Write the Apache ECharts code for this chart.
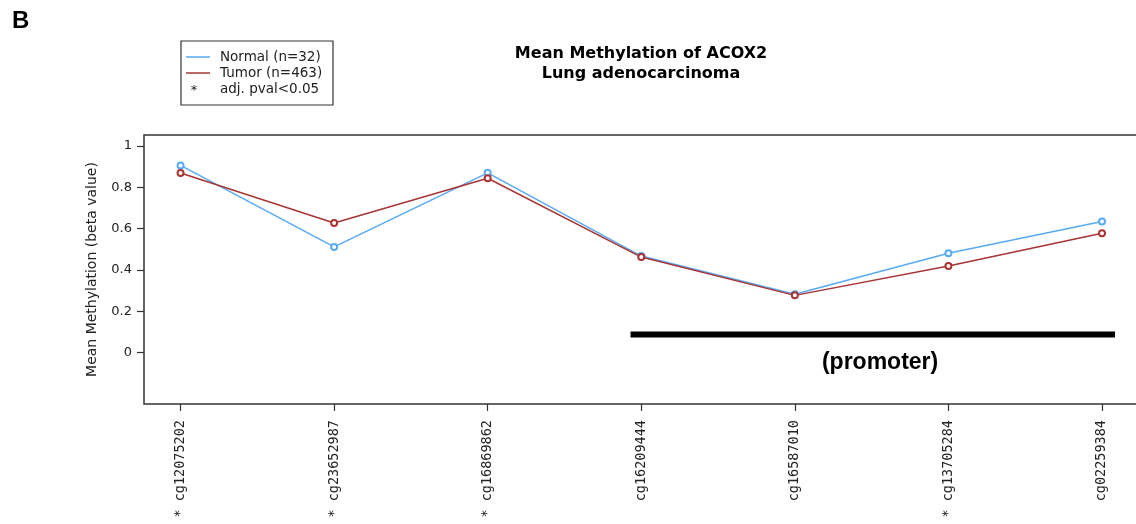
<!DOCTYPE html>
<html>
<head>
<meta charset="utf-8">
<title>Mean Methylation of ACOX2</title>
<script src="https://cdn.jsdelivr.net/npm/echarts@6/dist/echarts.min.js"></script>
<style>
  html, body { margin: 0; padding: 0; background: #ffffff; }
  #chart { width: 1136px; height: 524px; }
</style>
</head>
<body>
<div id="chart"></div>
<script>
// CpG probes along ACOX2 and whether the tumour/normal difference is significant
const probes = ['cg12075202', 'cg23652987', 'cg16869862', 'cg16209444', 'cg16587010', 'cg13705284', 'cg02259384'];
const significant = [true, true, true, false, false, true, false];

// Mean beta values per probe
const normalMeans = [0.905, 0.511, 0.869, 0.467, 0.282, 0.481, 0.634];
const tumorMeans  = [0.868, 0.627, 0.843, 0.462, 0.277, 0.419, 0.577];

// Y axis tick values and their labels
const yTicks = [0, 0.2, 0.4, 0.6, 0.8, 1];
const yTickLabels = ['0', '0.2', '0.4', '0.6', '0.8', '1'];

// Promoter region, in probe-index units, and the level its bar sits at
const promoterFrom = 3.93;
const promoterTo = 7.085;
const promoterLevel = 0.088;
const promoterLabelAt = [5.555, -0.047];

const positions = probes.map((_, i) => i + 1);
const probeLabels = probes.map((p, i) => (significant[i] ? '* ' : '') + p);

const BLUE = '#58aaf5';
const RED = '#a83434';
const INK = '#222222';

const chart = echarts.init(document.getElementById('chart'), null, { renderer: 'canvas' });

function lineSeries(name, values, color) {
  return {
    name: name,
    type: 'line',
    data: values.map((v, i) => [positions[i], v]),
    symbol: 'emptyCircle',
    symbolSize: 6,
    showSymbol: true,
    lineStyle: { color: color, width: 1.5 },
    itemStyle: { color: color, borderColor: color, borderWidth: 1.6 },
    emphasis: { disabled: true },
    silent: true,
    animation: false,
    z: 3
  };
}

const option = {
  animation: false,
  backgroundColor: '#ffffff',
  textStyle: { fontFamily: 'DejaVu Sans' },
  grid: {
    left: 144, top: 135, width: 995, height: 269,
    outerBoundsMode: 'none',
    containLabel: false,
    show: true, borderColor: '#333333', borderWidth: 1.5, backgroundColor: 'transparent'
  },
  xAxis: {
    type: 'value',
    min: 0.762, max: 7.241,
    axisLine: { show: false, onZero: false },
    splitLine: { show: false },
    axisTick: {
      show: true, inside: false, length: 7,
      customValues: positions,
      lineStyle: { color: '#333333', width: 1.2 }
    },
    axisLabel: {
      show: true,
      customValues: positions,
      rotate: 90,
      margin: 16,
      fontFamily: 'DejaVu Sans Mono',
      fontSize: 13.5,
      color: INK,
      formatter: v => probeLabels[Math.round(v) - 1]
    }
  },
  yAxis: {
    type: 'value',
    min: -0.248, max: 1.052,
    name: 'Mean Methylation (beta value)',
    nameLocation: 'middle',
    nameRotate: 90,
    nameGap: 45,
    nameTextStyle: { fontFamily: 'DejaVu Sans', fontSize: 14, color: INK },
    axisLine: { show: false, onZero: false },
    splitLine: { show: false },
    axisTick: {
      show: true, inside: false, length: 7,
      customValues: yTicks,
      lineStyle: { color: '#333333', width: 1.2 }
    },
    axisLabel: {
      show: true,
      customValues: yTicks,
      margin: 12,
      fontFamily: 'DejaVu Sans',
      fontSize: 13,
      color: INK,
      formatter: v => yTickLabels[yTicks.findIndex(t => Math.abs(t - v) < 1e-6)]
    }
  },
  series: [
    lineSeries('Normal (n=32)', normalMeans, BLUE),
    lineSeries('Tumor (n=463)', tumorMeans, RED),
    {
      name: 'promoter',
      type: 'line',
      data: [[promoterFrom, promoterLevel], [promoterTo, promoterLevel]],
      symbol: 'none',
      lineStyle: { color: '#000000', width: 6, cap: 'butt' },
      silent: true,
      z: 2
    },
    {
      name: 'promoter label',
      type: 'scatter',
      data: [promoterLabelAt],
      symbolSize: 0,
      silent: true,
      itemStyle: { opacity: 1, color: '#000000' },
      label: {
        show: true,
        position: 'inside',
        formatter: '(promoter)',
        fontFamily: 'Arial, Liberation Sans, sans-serif',
        fontWeight: 'bold',
        fontSize: 23,
        color: '#000000',
        opacity: 1,
        textBorderWidth: 0
      }
    }
  ],
  graphic: [
    {
      type: 'text', left: 12, top: 9,
      style: { text: 'B', fontFamily: 'Liberation Sans', fontWeight: 'bold', fontSize: 24, fill: '#000000' }
    },
    {
      type: 'text', x: 641, y: 64,
      style: {
        text: 'Mean Methylation of ACOX2\nLung adenocarcinoma',
        fontFamily: 'DejaVu Sans', fontWeight: 'bold', fontSize: 16, lineHeight: 20,
        fill: '#000000', align: 'center', verticalAlign: 'middle'
      }
    },
    {
      type: 'group', x: 181, y: 41,
      children: [
        { type: 'rect', shape: { x: 0, y: 0, width: 152, height: 64 },
          style: { fill: '#ffffff', stroke: '#333333', lineWidth: 1.2 } },
        { type: 'line', shape: { x1: 5, y1: 16, x2: 29, y2: 16 }, style: { stroke: BLUE, lineWidth: 1.5 } },
        { type: 'text', x: 39, y: 16,
          style: { text: 'Normal (n=32)', fontFamily: 'DejaVu Sans', fontSize: 13.5, fill: INK, verticalAlign: 'middle' } },
        { type: 'line', shape: { x1: 5, y1: 32, x2: 29, y2: 32 }, style: { stroke: RED, lineWidth: 1.5 } },
        { type: 'text', x: 39, y: 32,
          style: { text: 'Tumor (n=463)', fontFamily: 'DejaVu Sans', fontSize: 13.5, fill: INK, verticalAlign: 'middle' } },
        { type: 'text', x: 13, y: 50,
          style: { text: '*', fontFamily: 'DejaVu Sans', fontSize: 13, fill: INK, align: 'center', verticalAlign: 'middle' } },
        { type: 'text', x: 39, y: 48,
          style: { text: 'adj. pval<0.05', fontFamily: 'DejaVu Sans', fontSize: 13.5, fill: INK, verticalAlign: 'middle' } }
      ]
    }
  ]
};

chart.setOption(option);
</script>
</body>
</html>
